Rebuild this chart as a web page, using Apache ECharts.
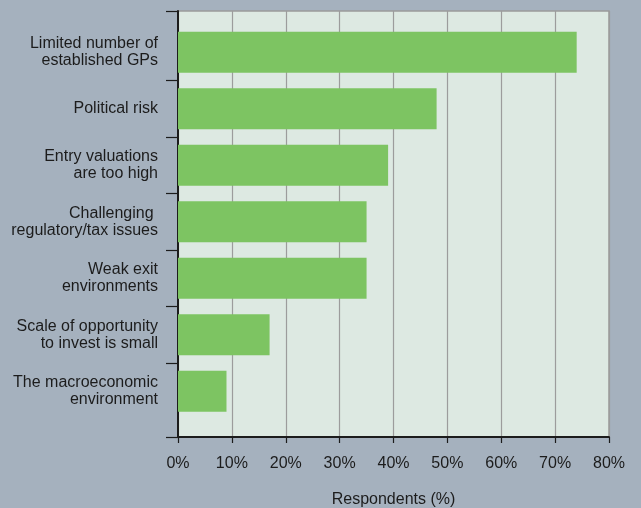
<!DOCTYPE html>
<html>
<head>
<meta charset="utf-8">
<script src="https://cdn.jsdelivr.net/npm/echarts@6/dist/echarts.min.js"></script>
<style>
  html, body { margin: 0; padding: 0; background: #a5b1be; }
  #chart { width: 641px; height: 508px; }
</style>
</head>
<body>
<div id="chart"></div>
<script>
// Survey reasons, top to bottom
const categories = [
  'Limited number of\nestablished GPs',
  'Political risk',
  'Entry valuations\nare too high',
  'Challenging \nregulatory/tax issues',
  'Weak exit\nenvironments',
  'Scale of opportunity\nto invest is small',
  'The macroeconomic\nenvironment'
];
// Share of respondents (%)
const respondents = [74, 48, 39, 35, 35, 17, 9];
// Horizontal axis
const xMin = 0;
const xMax = 80;
const xStep = 10;

// Layout of the plot area (pixels)
const plotLeft = 178, plotRight = 32, plotTop = 11, plotBottom = 71;
const padTop = 13, padBottom = 17.5;          // frame extends past the category bands
const chartH = 508;
const bandArea = chartH - plotTop - plotBottom - padTop - padBottom;
const band = bandArea / categories.length;

// Frame axis expressed in category-index units so ticks fall between bands
const frameMin = -0.5 - padTop / band;
const frameMax = categories.length - 0.5 + padBottom / band;
const boundaryTicks = [frameMin];
for (let i = 0; i < categories.length - 1; i++) boundaryTicks.push(i + 0.5);
boundaryTicks.push(frameMax);

const font = '"Liberation Sans", Arial, sans-serif';
const ink = '#1c1c1c';

const chart = echarts.init(document.getElementById('chart'), null, { renderer: 'canvas' });
chart.setOption({
  backgroundColor: '#a5b1be',
  animation: false,
  textStyle: { fontFamily: font },
  grid: [
    { // frame: background, gridlines, axes
      left: plotLeft, right: plotRight, top: plotTop, bottom: plotBottom,
      outerBoundsMode: 'none', containLabel: false,
      show: true, backgroundColor: '#dde9e2', borderColor: '#9a9a9a', borderWidth: 1.5
    },
    { // bars
      left: plotLeft, right: plotRight, top: plotTop + padTop, bottom: plotBottom + padBottom,
      outerBoundsMode: 'none', containLabel: false
    }
  ],
  xAxis: [
    {
      gridIndex: 0, type: 'value', min: xMin, max: xMax, interval: xStep,
      axisLine: { show: true, onZero: false, lineStyle: { color: ink, width: 1.8 } },
      axisTick: { show: true, length: 6, lineStyle: { color: ink, width: 1.2 } },
      splitLine: { show: true, lineStyle: { color: '#9c9c9c', width: 1.2 } },
      axisLabel: { formatter: '{value}%', color: ink, fontSize: 16, fontFamily: font, margin: 19 },
      name: 'Respondents (%)', nameLocation: 'middle', nameGap: 55,
      nameTextStyle: { color: ink, fontSize: 16, fontFamily: font }
    },
    { gridIndex: 1, type: 'value', min: xMin, max: xMax, show: false }
  ],
  yAxis: [
    {
      gridIndex: 0, type: 'value', inverse: true, min: frameMin, max: frameMax,
      axisLine: { show: true, onZero: false, lineStyle: { color: ink, width: 2 } },
      axisTick: { show: true, length: 12, customValues: boundaryTicks, lineStyle: { color: ink, width: 1.2 } },
      axisLabel: { show: false },
      splitLine: { show: false }
    },
    {
      gridIndex: 1, type: 'category', inverse: true, data: categories,
      axisLine: { show: false }, axisTick: { show: false }, splitLine: { show: false },
      axisLabel: { color: ink, fontSize: 16, fontFamily: font, lineHeight: 17, margin: 20, align: 'right' }
    }
  ],
  series: [{
    type: 'bar', xAxisIndex: 1, yAxisIndex: 1,
    data: respondents, barWidth: 41,
    itemStyle: { color: '#7dc462' },
    z: 3
  }]
});
</script>
</body>
</html>
